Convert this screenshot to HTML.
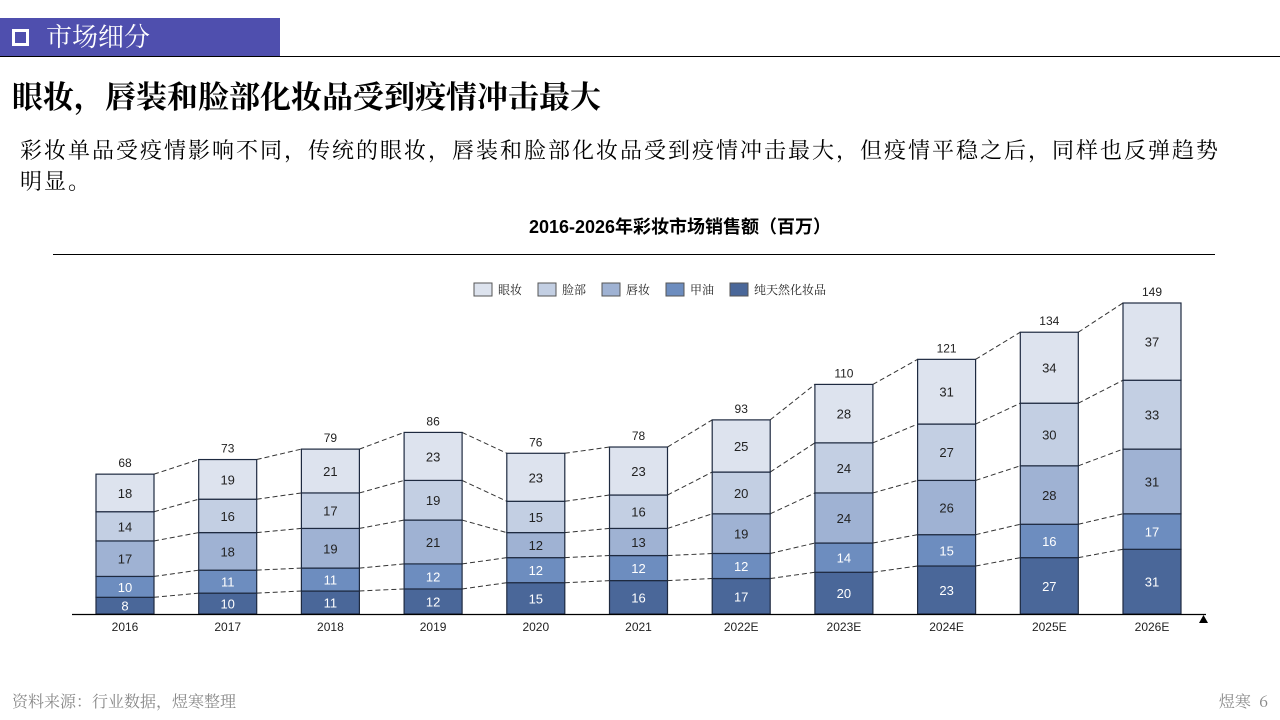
<!DOCTYPE html>
<html><head><meta charset="utf-8">
<style>
body{margin:0;width:1280px;height:720px;background:#fff;position:relative;overflow:hidden;font-family:"Liberation Sans","Noto Sans CJK SC",sans-serif;}
.hdr{position:absolute;left:0;top:18px;width:280px;height:38px;background:#4f4fae;color:#fff;font-size:26px;line-height:38px;font-family:"Noto Serif CJK SC",serif;}
.hdr .box{position:absolute;left:12px;top:11px;width:11px;height:11px;border:3px solid #fff;}
.hdr span{position:absolute;left:46px;top:-1px;}
.rule{position:absolute;left:0;top:56px;width:1280px;height:1px;background:#000;}
.title{position:absolute;left:12px;top:72px;font-size:31px;font-weight:bold;font-family:"Noto Serif CJK SC",serif;}
.desc{position:absolute;left:20px;top:134px;width:1250px;font-size:22px;line-height:31px;letter-spacing:2px;font-family:"Noto Serif CJK SC",serif;white-space:nowrap;}
.foot{position:absolute;left:12px;top:689px;font-size:16px;color:#888;font-family:"Noto Serif CJK SC",serif;}
.pg{position:absolute;right:12px;top:689px;font-size:16px;color:#888;font-family:"Noto Serif CJK SC",serif;}
svg{position:absolute;left:0;top:0;}
</style></head><body>
<div class="hdr"><div class="box"></div><span>市场细分</span></div>
<div class="rule"></div>
<div class="title">眼妆，唇装和脸部化妆品受到疫情冲击最大</div>
<div class="desc">彩妆单品受疫情影响不同，传统的眼妆，唇装和脸部化妆品受到疫情冲击最大，但疫情平稳之后，同样也反弹趋势<br>明显。</div>
<div class="foot">资料来源：行业数据，煜寒整理</div>
<div class="pg">煜寒&nbsp;&nbsp;6</div>
<svg id="chart" width="1280" height="720"></svg>
<script>
const categories=["2016","2017","2018","2019","2020","2021","2022E","2023E","2024E","2025E","2026E"];
const seriesNames=["纯天然化妆品","甲油","唇妆","脸部","眼妆"];
const natural=[8,10,11,12,15,16,17,20,23,27,31];
const nail=[10,11,11,12,12,12,12,14,15,16,17];
const lip=[17,18,19,21,12,13,19,24,26,28,31];
const face=[14,16,17,19,15,16,20,24,27,30,33];
const eye=[18,19,21,23,23,23,25,28,31,34,37];
const totals=[68,73,79,86,76,78,93,110,121,134,149];
const series=[natural,nail,lip,face,eye];
const colors=["#4a6799","#6d8dbf","#9fb2d3","#c3cfe3","#dde3ee"];
const textColors=["#fff","#fff","#222","#222","#222"];
const NS="http://www.w3.org/2000/svg";
const svg=document.getElementById('chart');
const baseY=614, pxPerUnit=311/149, x0=125, step=102.7, bw=58;
const xs=i=>x0+i*step;
const ys=v=>baseY-v*pxPerUnit;
function mk(tag,attrs){const e=document.createElementNS(NS,tag);for(const k in attrs)e.setAttribute(k,attrs[k]);svg.appendChild(e);return e;}
let t=mk('text',{x:680,y:233,'text-anchor':'middle','font-size':18,'font-weight':'bold','font-family':'"Liberation Sans","Noto Sans CJK SC",sans-serif'});
t.textContent="2016-2026年彩妆市场销售额（百万）";


let r=mk('line',{x1:53,x2:1215,y1:254.5,y2:254.5,stroke:'#000','stroke-width':1});


const legX=[474,538,602,666,730];
const legNames=["眼妆","脸部","唇妆","甲油","纯天然化妆品"];
const legCols=[colors[4],colors[3],colors[2],colors[1],colors[0]];
legNames.forEach((n,i)=>{
  const rc=mk('rect',{x:legX[i],y:283,width:18,height:13,fill:legCols[i],stroke:'#555','stroke-width':1});
  
  
  const tx=mk('text',{x:legX[i]+24,y:294,'font-size':12,fill:'#222','font-family':'"Noto Serif CJK SC",serif'});
  tx.textContent=n;
  
  
});
const tops=categories.map((c,i)=>{let s=0;return series.map(a=>{s+=a[i];return s;});});
for(let i=0;i<categories.length-1;i++){
  for(let k=0;k<series.length;k++){
    const l=mk('line',{x1:xs(i)+bw/2,y1:ys(tops[i][k]),x2:xs(i+1)-bw/2,y2:ys(tops[i+1][k]),stroke:'#333','stroke-width':1,'stroke-dasharray':'5,3'});
    
    
  }
}
categories.forEach((c,i)=>{
  let acc=0;
  series.forEach((a,k)=>{
    const y1=ys(acc+a[i]), y0=ys(acc);
    const b=mk('rect',{x:xs(i)-bw/2,y:y1,width:bw,height:y0-y1,fill:colors[k],stroke:'#1e2a40','stroke-width':1.2});
    
    
    const tl=mk('text',{x:xs(i),y:(y0+y1)/2+5,'text-anchor':'middle','font-size':13,fill:textColors[k]});
    tl.textContent=a[i];
    
    
    acc+=a[i];
  });
  const tt=mk('text',{x:xs(i),y:ys(acc)-7,'text-anchor':'middle','font-size':12,fill:'#222'});
  tt.textContent=totals[i];
  
  
  const xl=mk('text',{x:xs(i),y:631,'text-anchor':'middle','font-size':12,fill:'#222'});
  xl.textContent=c;
  
  
});
const ax=mk('line',{x1:72,x2:1206,y1:baseY+0.5,y2:baseY+0.5,stroke:'#000','stroke-width':1.2});


const tri=mk('polygon',{points:'1199,623 1208,623 1203.5,615',fill:'#000'});


</script>
</body></html>
